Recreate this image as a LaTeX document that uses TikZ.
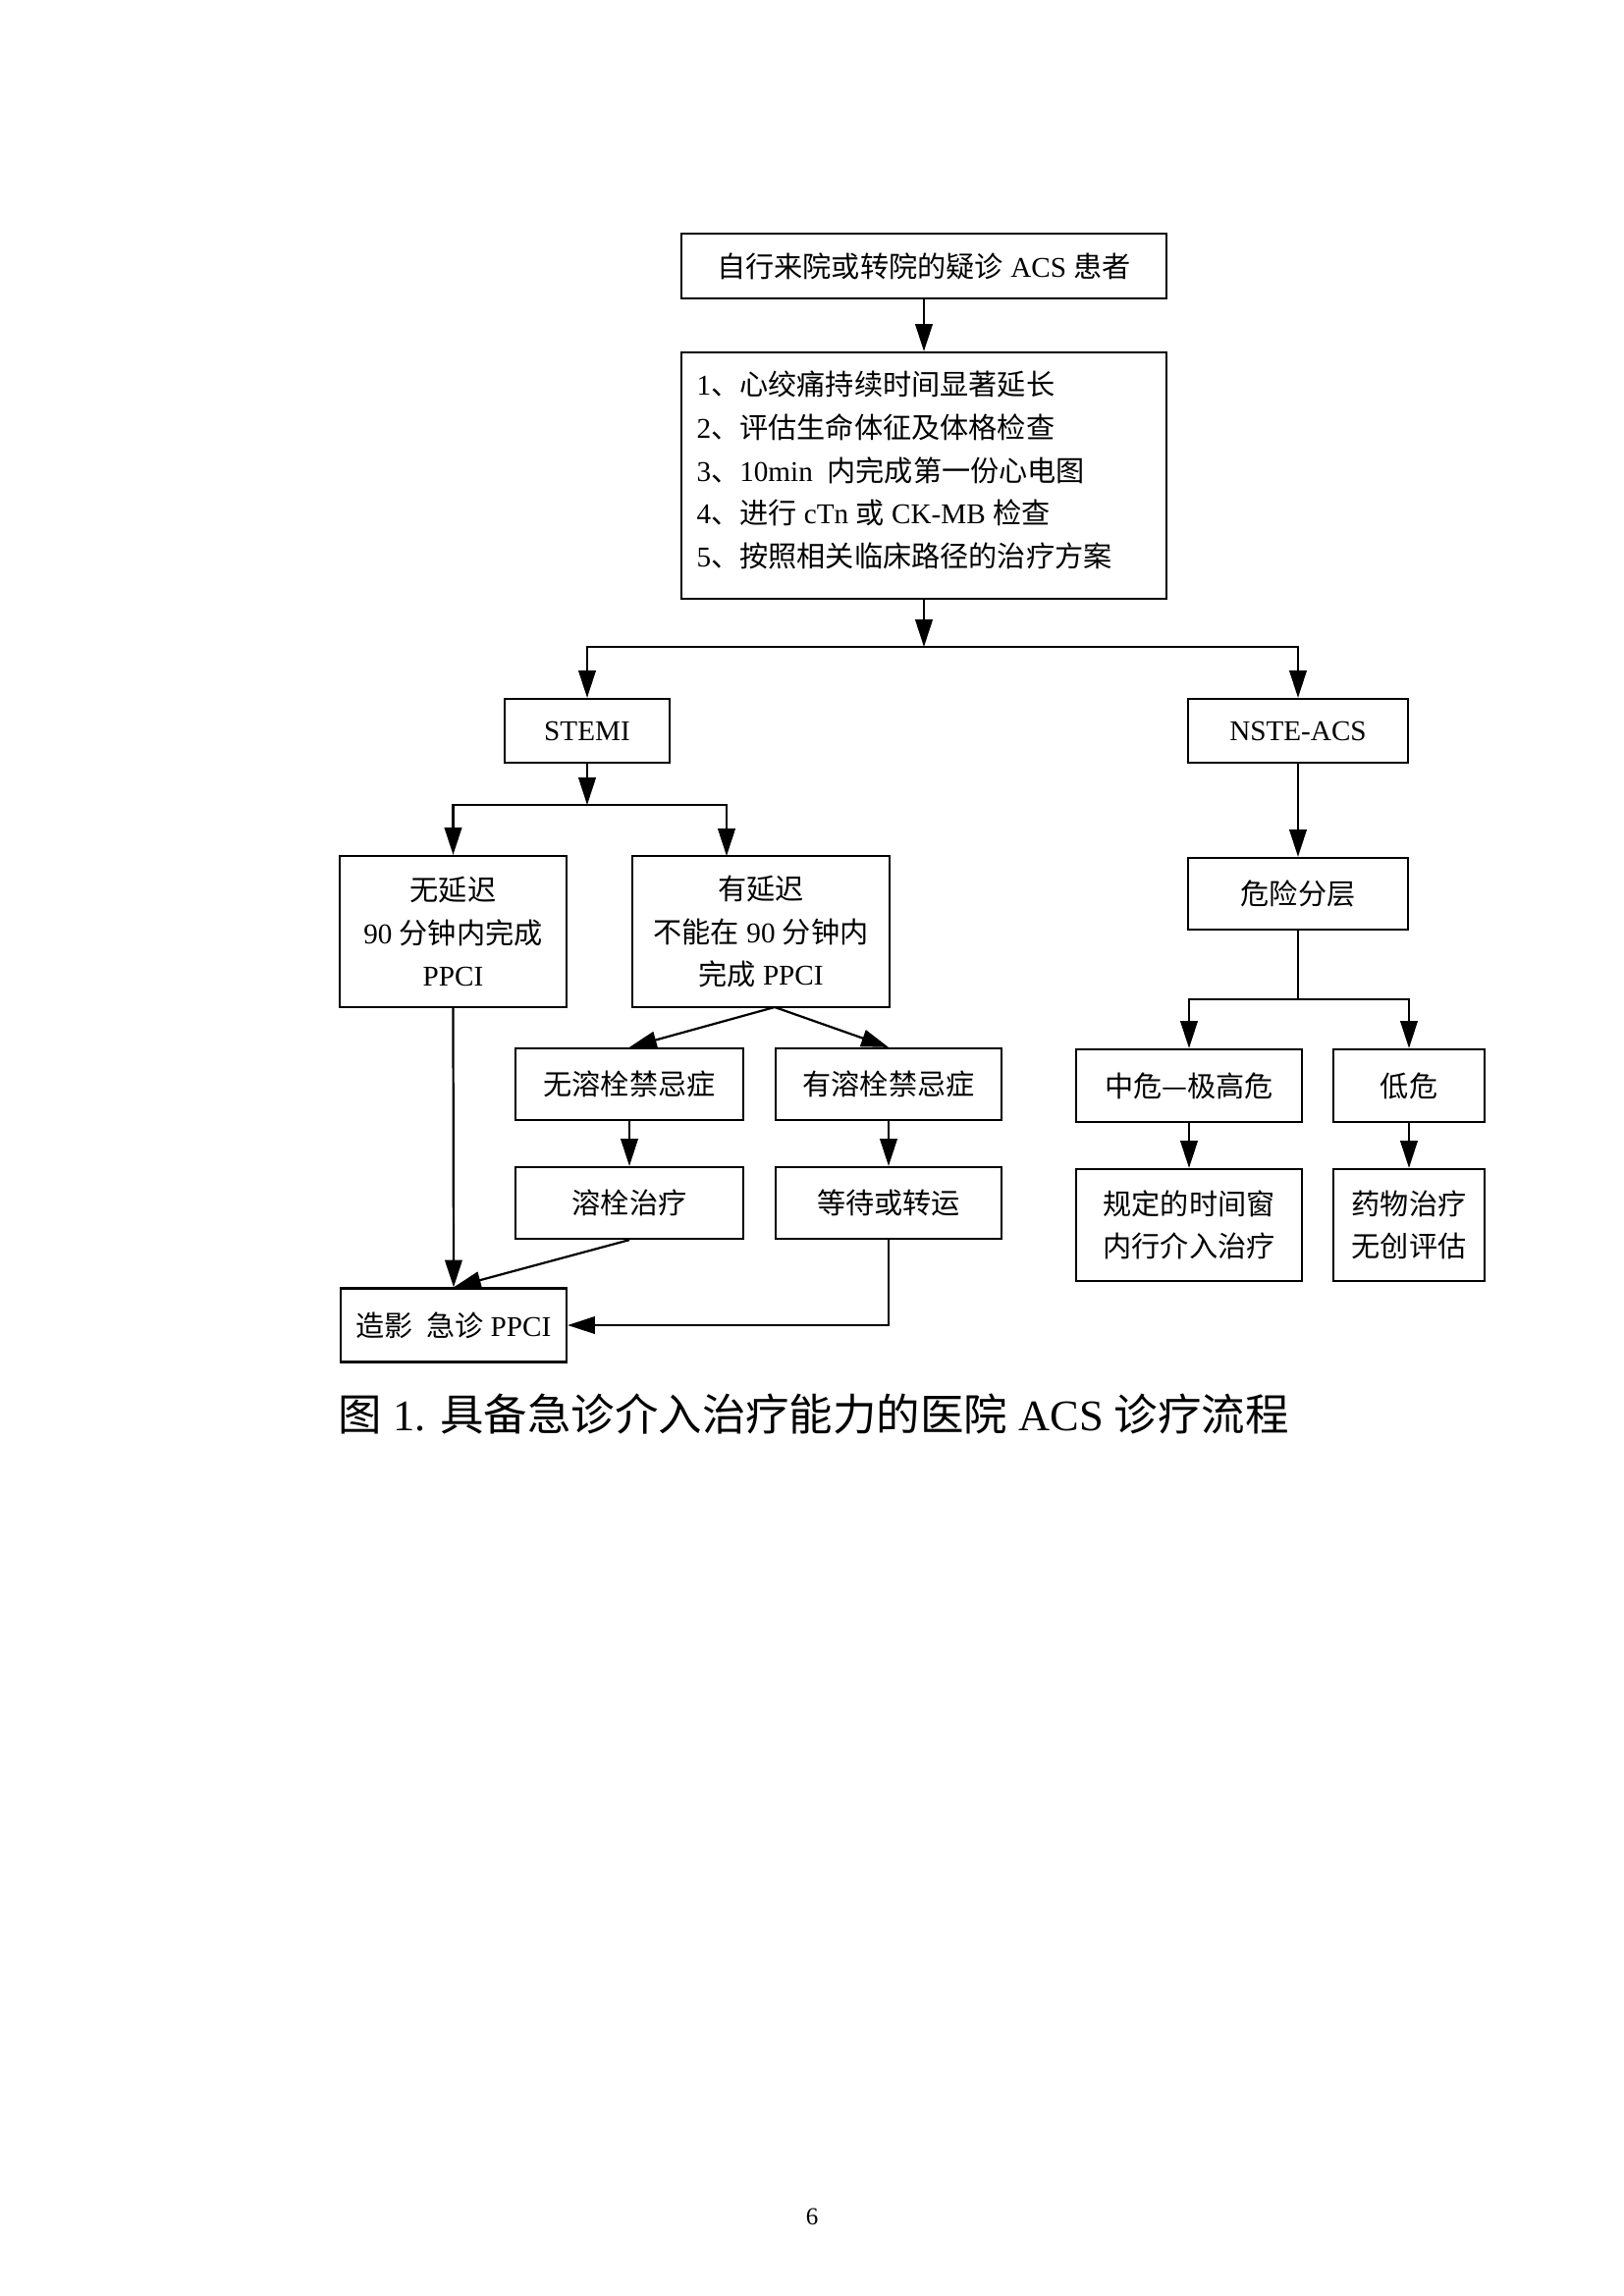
\documentclass[tikz,border=0pt]{standalone}
\usepackage{fontspec}
\setmainfont{Liberation Serif}
\newfontfamily\cjk{Noto Sans CJK SC}
\newcommand\C[1]{{\cjk #1}}
\newcommand\px{0.3599pt}
\usetikzlibrary{arrows.meta}
\tikzset{
  box/.style={draw, line width=0.8pt, inner sep=0pt, align=center,
    font=\fontsize{10.5pt}{15.7pt}\selectfont},
  txt/.style={inner sep=0pt, font=\fontsize{10.5pt}{15.7pt}\selectfont},
  arr/.style={line width=0.8pt, -{Triangle[length=10pt,width=6.3pt]}},
  ln/.style={line width=0.8pt}
}
\begin{document}
\begin{tikzpicture}[x=0.3599pt, y=-0.3599pt]
\fill[white] (0,0) rectangle (1654,2339);
\useasboundingbox (0,0) rectangle (1654,2339);

\node[box, minimum width=494*\px, minimum height=66*\px] (top) at (941,271)
  {\C{自行来院或转院的疑诊} ACS \C{患者}};
\node[box, minimum width=494*\px, minimum height=251*\px] (info) at (941,484.5) {};
\node[txt, anchor=west, align=left] (infotext) at (709,479)
  {1\C{、心绞痛持续时间显著延长}\\
   2\C{、评估生命体征及体格检查}\\
   3\C{、}10min\ \ \C{内完成第一份心电图}\\
   4\C{、进行} cTn \C{或} CK-MB \C{检查}\\
   5\C{、按照相关临床路径的治疗方案}};

\node[box, minimum width=168*\px, minimum height=65*\px] (stemi) at (598,744.5) {STEMI};
\node[box, minimum width=224*\px, minimum height=65*\px] (nste) at (1322,744.5) {NSTE-ACS};

\node[box, minimum width=231*\px, minimum height=154*\px] (nodelay) at (461.5,949)
  {\C{无延迟}\\90 \C{分钟内完成}\\PPCI};
\node[box, minimum width=262*\px, minimum height=154*\px] (delay) at (775,949)
  {\C{有延迟}\\\C{不能在} 90 \C{分钟内}\\\C{完成} PPCI};

\node[box, minimum width=232*\px, minimum height=73*\px] (nolys) at (641,1104.5) {\C{无溶栓禁忌症}};
\node[box, minimum width=230*\px, minimum height=73*\px] (lys) at (905,1104.5) {\C{有溶栓禁忌症}};
\node[box, minimum width=232*\px, minimum height=73*\px] (thromb) at (641,1225.5) {\C{溶栓治疗}};
\node[box, minimum width=230*\px, minimum height=73*\px] (wait) at (905,1225.5) {\C{等待或转运}};
\node[box, minimum width=230*\px, minimum height=75*\px] (ppci) at (462,1350) {\C{造影\ \ 急诊} PPCI};

\node[box, minimum width=224*\px, minimum height=73*\px] (risk) at (1322,910.5) {\C{危险分层}};
\node[box, minimum width=230*\px, minimum height=74*\px] (mid) at (1211,1106) {\C{中危—极高危}};
\node[box, minimum width=154*\px, minimum height=74*\px] (low) at (1435,1106) {\C{低危}};
\node[box, minimum width=230*\px, minimum height=114*\px] (timewin) at (1211,1248) {\C{规定的时间窗}\\\C{内行介入治疗}};
\node[box, minimum width=154*\px, minimum height=114*\px] (drug) at (1435,1248) {\C{药物治疗}\\\C{无创评估}};

% connectors
\coordinate (j1) at (941,659);
\coordinate (j2) at (598,820);
\coordinate (dtop) at (740,872);
\coordinate (dbot) at (789,1026);
\coordinate (j3) at (1322,1018);

\draw[arr] (top.south) -- (info.north);
\draw[arr] (info.south) -- (j1);
\draw[arr] (j1) -| (stemi.north);
\draw[arr] (j1) -| (nste.north);
\draw[arr] (stemi.south) -- (j2);
\draw[arr] (j2) -| (nodelay.north);
\draw[arr] (j2) -| (dtop);
\draw[arr] (dbot) -- (nolys.north);
\draw[arr] (dbot) -- (lys.north);
\draw[arr] (nolys.south) -- (thromb.north);
\draw[arr] (lys.south) -- (wait.north);
\draw[arr] (nodelay.south) -- (ppci.north);
\draw[arr] (thromb.south) -- (ppci.north);
\draw[arr] (wait.south) |- (ppci.east);
\draw[arr] (nste.south) -- (risk.north);
\draw[ln] (risk.south) -- (j3);
\draw[arr] (j3) -| (mid.north);
\draw[arr] (j3) -| (low.north);
\draw[arr] (mid.south) -- (timewin.north);
\draw[arr] (low.south) -- (drug.north);

\node[anchor=west, inner sep=0pt, font=\fontsize{16pt}{19pt}\selectfont] (cap) at (344,1440)
  {\C{图} 1. \C{具备急诊介入治疗能力的医院} ACS \C{诊疗流程}};
\node[inner sep=0pt, font=\fontsize{9pt}{11pt}\selectfont] (pg) at (827,2258) {6};
\end{tikzpicture}
\end{document}
